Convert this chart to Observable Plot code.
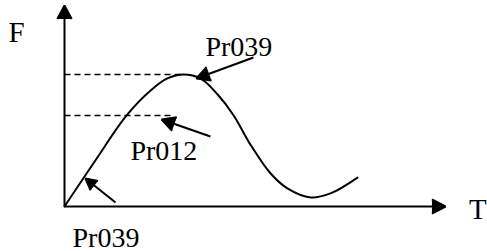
<!DOCTYPE html>
<html>
<head>
<meta charset="utf-8">
<script src="https://cdn.jsdelivr.net/npm/d3@7"></script>
<script src="https://cdn.jsdelivr.net/npm/@observablehq/plot@0.6"></script>
<style>
  html, body { margin: 0; padding: 0; background: #fff; }
  #chart svg { display: block; }
</style>
</head>
<body>
<div id="chart"></div>
<script>
// Curve F(T)
const curveT = [0, 8.1, 16.3, 22.6, 27.0, 31.2, 35.7, 40.2, 44.4, 48.8, 54.1, 58.5, 64.6, 69.8, 76.9];
const curveF = [0, 22.9, 45.3, 57.7, 63.7, 65.7, 63.7, 55.7, 45.3, 30.8, 16.4, 9.0, 4.5, 6.5, 14.4];

// Dashed reference levels
const levelF = [65.7, 45.3];
const levelEndT = [30.9, 28.3];

// Annotation labels and arrows
const labelText = ["Pr039", "Pr012", "Pr039"];
const labelT = [37.0, 17.3, 2.1];
const labelF = [75.1, 22.9, -20.2];
const arrowT1 = [49.6, 38.3, 13.4];
const arrowF1 = [74.1, 34.8, 2.0];
const arrowT2 = [34.6, 25.5, 5.5];
const arrowF2 = [63.7, 43.3, 13.9];

// Axis names
const axisNames = ["F", "T"];
const axisNameT = [-14.7, 106.2];
const axisNameF = [81.6, -6.0];

const curve = curveT.map((t, i) => ({t, f: curveF[i]}));
const levels = levelF.map((f, i) => ({t1: 0, t2: levelEndT[i], f}));
const labels = labelText.map((text, i) => ({text, t: labelT[i], f: labelF[i]}));
const arrows = arrowT1.map((t1, i) => ({t1, f1: arrowF1[i], t2: arrowT2[i], f2: arrowF2[i]}));
const names = axisNames.map((text, i) => ({text, t: axisNameT[i], f: axisNameF[i]}));
const axes = [{t1: 0, f1: 0, t2: 0, f2: 100}, {t1: 0, f1: 0, t2: 100, f2: 0}];

const font = "Liberation Serif";

const plot = Plot.plot({
  width: 487,
  height: 251,
  marginLeft: 64,
  marginRight: 42,
  marginTop: 5,
  marginBottom: 45,
  x: {domain: [0, 100], axis: null},
  y: {domain: [0, 100], axis: null},
  marks: [
    Plot.link(levels, {x1: "t1", x2: "t2", y1: "f", y2: "f", stroke: "#000", strokeWidth: 1.5, strokeDasharray: "6,4"}),
    Plot.line(curve, {x: "t", y: "f", curve: "catmull-rom", stroke: "#000", strokeWidth: 2}),
    Plot.arrow(axes, {x1: "t1", y1: "f1", x2: "t2", y2: "f2", stroke: "#000", fill: "#000", strokeWidth: 2, headLength: 11.5, headAngle: 56, strokeLinejoin: "miter", strokeLinecap: "butt"}),
    Plot.arrow(arrows, {x1: "t1", y1: "f1", x2: "t2", y2: "f2", stroke: "#000", fill: "#000", strokeWidth: 2, headLength: 11.5, headAngle: 56, strokeLinejoin: "miter", strokeLinecap: "butt"}),
    Plot.text(labels, {x: "t", y: "f", text: "text", textAnchor: "start", lineAnchor: "bottom", fontSize: 28, fill: "#000", fontFamily: font}),
    Plot.text(names, {x: "t", y: "f", text: "text", textAnchor: "start", lineAnchor: "bottom", fontSize: 29, fill: "#000", fontFamily: font})
  ]
});
document.getElementById("chart").appendChild(plot);
</script>
</body>
</html>
